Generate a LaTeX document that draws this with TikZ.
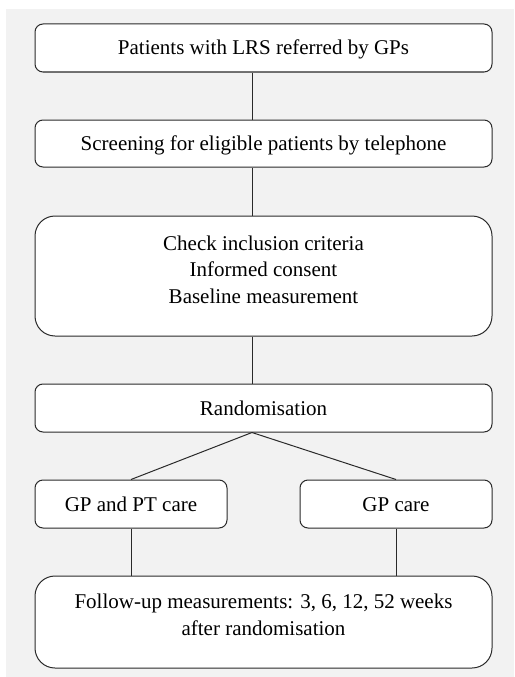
\documentclass[tikz,border=0pt]{standalone}
\usepackage{fontspec}
\setmainfont{Liberation Serif}
\definecolor{bggray}{HTML}{F2F2F2}
\definecolor{linegray}{HTML}{2A2A2A}
\tikzset{
  boxsmall/.style={draw=linegray, line width=1pt, fill=white, rounded corners=8pt, inner sep=0pt},
  boxbig/.style={draw=linegray, line width=1pt, fill=white, rounded corners=20pt, inner sep=0pt},
  txt/.style={inner sep=0pt, align=center, font=\fontsize{21}{26.5}\selectfont},
  conn/.style={draw=linegray, line width=1pt}
}
\begin{document}
\begin{tikzpicture}[x=1pt,y=-1pt]
\useasboundingbox (0,0) rectangle (514,677);
\fill[white] (0,0) rectangle (514,677);
\fill[bggray] (6,9) rectangle (514,677);
% boxes
\node[boxsmall, minimum width=457pt, minimum height=48pt] (b1) at (263.5,48) {};
\node[boxsmall, minimum width=457pt, minimum height=47pt] (b2) at (263.5,143.5) {};
\node[boxbig, minimum width=457pt, minimum height=120pt] (b3) at (263.5,276) {};
\node[boxsmall, minimum width=457pt, minimum height=48pt] (b4) at (263.5,408) {};
\node[boxsmall, minimum width=192pt, minimum height=48pt] (b5) at (131,504) {};
\node[boxsmall, minimum width=192pt, minimum height=48pt] (b6) at (396,504) {};
\node[boxbig, minimum width=457pt, minimum height=92pt] (b7) at (263.5,622) {};
% connectors
\coordinate (spine) at (252,0);
\draw[conn] (b1.south -| spine) -- (b2.north -| spine);
\draw[conn] (b2.south -| spine) -- (b3.north -| spine);
\draw[conn] (b3.south -| spine) -- (b4.north -| spine);
\draw[conn] (b4.south -| spine) -- (b5.north);
\draw[conn] (b4.south -| spine) -- (b6.north);
\draw[conn] (b5.south) -- (b7.north -| b5.south);
\draw[conn] (b6.south) -- (b7.north -| b6.south);
% texts
\node[txt, anchor=base] (t1) at (263.5,55) {Patients with LRS referred by GPs};
\node[txt, anchor=base] (t2) at (263.5,150) {Screening for eligible patients by telephone};
\node[txt, anchor=base] (t3) at (263.5,303) {Check inclusion criteria\\Informed consent\\Baseline measurement};
\node[txt, anchor=base] (t4) at (263.5,415) {Randomisation};
\node[txt, anchor=base] (t5) at (131,511) {GP and PT care};
\node[txt, anchor=base] (t6) at (396,511) {GP care};
\node[txt, anchor=base] (t7) at (263.5,635) {Follow-up measurements: 3, 6, 12, 52 weeks\\after randomisation};
\end{tikzpicture}
\end{document}
